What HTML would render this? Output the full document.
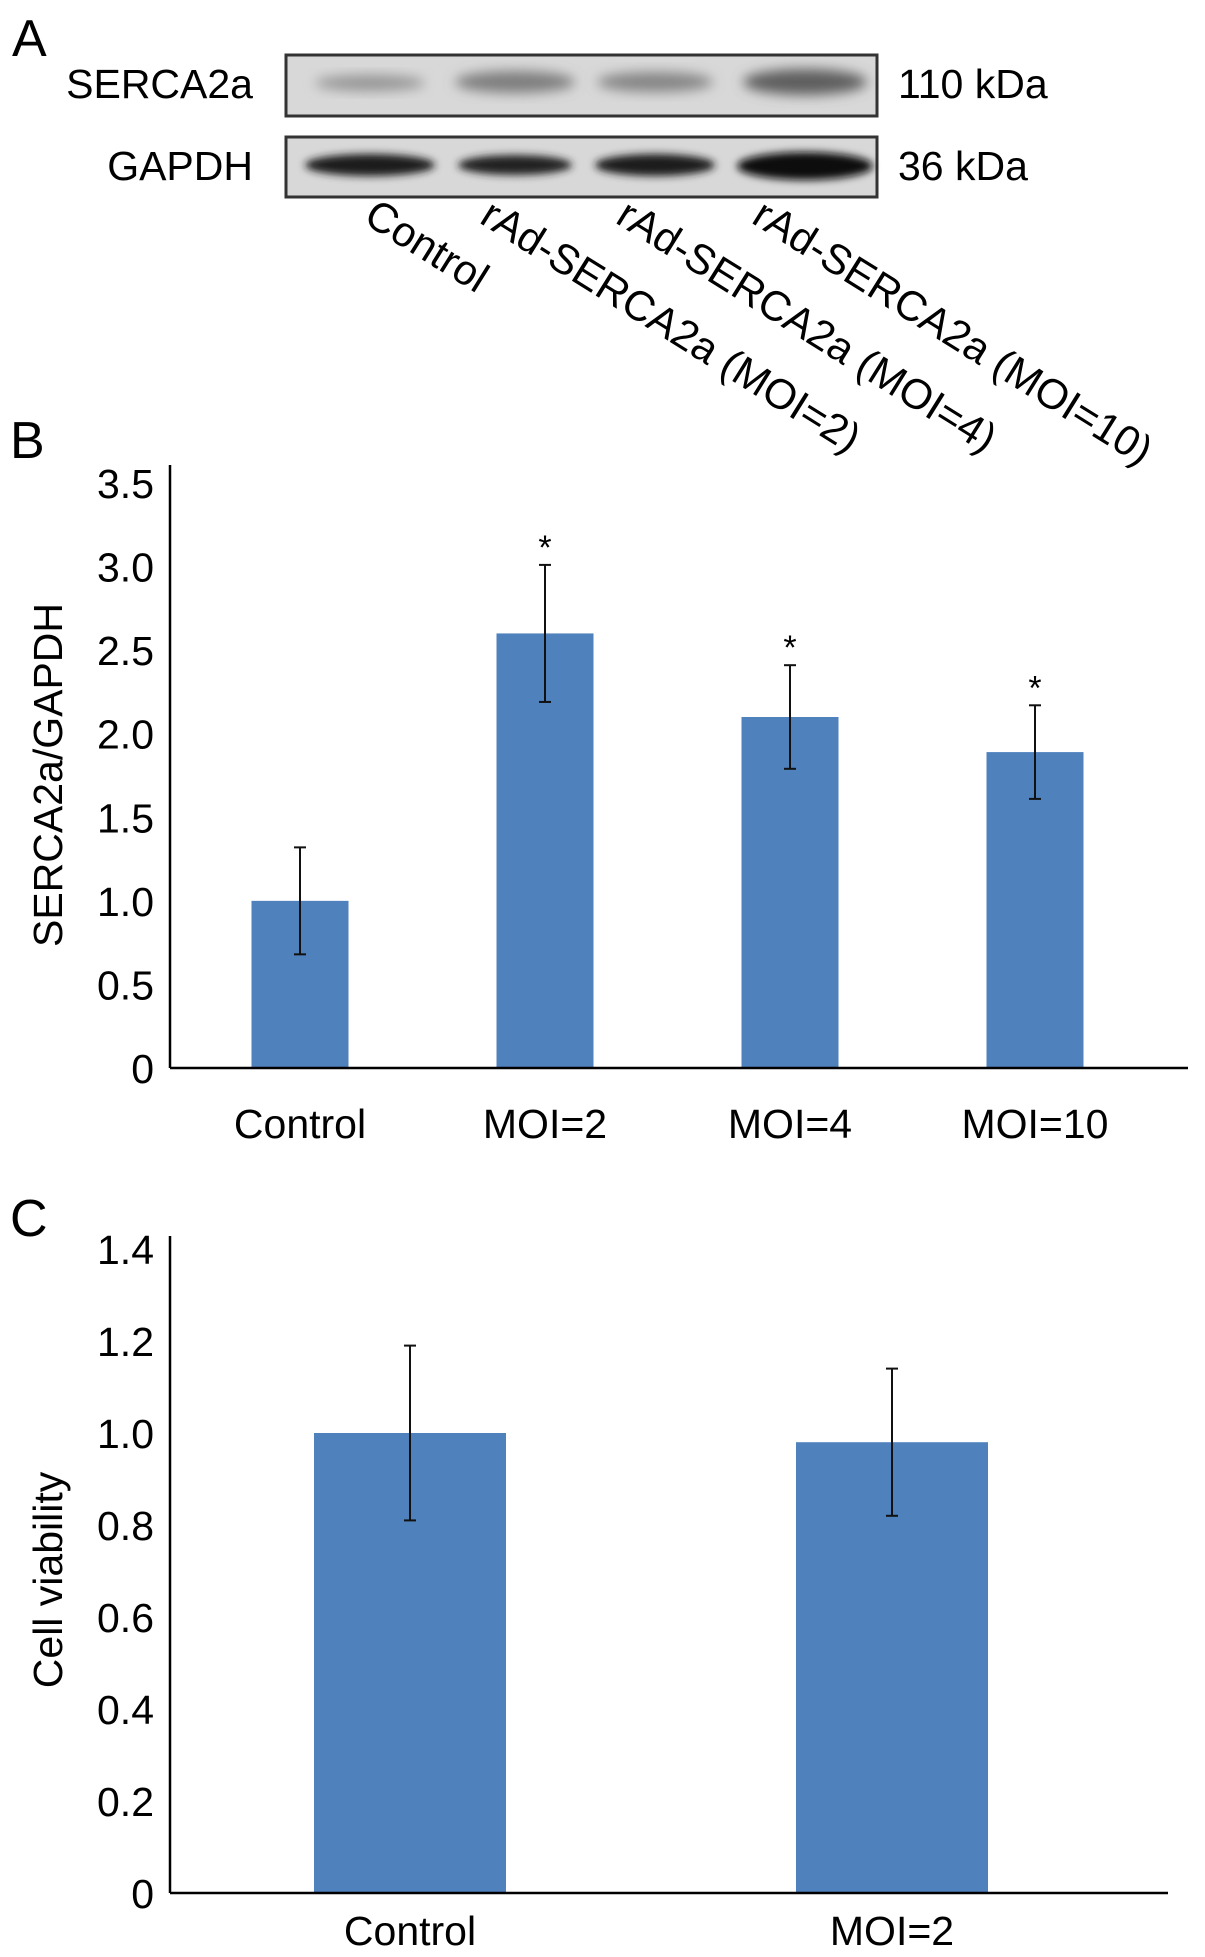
<!DOCTYPE html>
<html><head><meta charset="utf-8">
<style>
html,body{margin:0;padding:0;background:#fff;}
svg{display:block;font-family:"Liberation Sans",Arial,sans-serif;}
</style></head>
<body>
<svg id="fig" width="1205" height="1957" viewBox="0 0 1205 1957">
<defs>
<filter id="blur6" x="-20%" y="-50%" width="140%" height="200%"><feGaussianBlur stdDeviation="6"/></filter>
<filter id="blur4" x="-20%" y="-50%" width="140%" height="200%"><feGaussianBlur stdDeviation="4"/></filter>
</defs>
<g>
<text x="12" y="56" font-size="52">A</text>
<text x="253" y="98" font-size="41" text-anchor="end">SERCA2a</text>
<text x="253" y="180" font-size="41" text-anchor="end">GAPDH</text>
<text x="898" y="98" font-size="41">110 kDa</text>
<text x="898" y="180" font-size="41">36 kDa</text>
<g>
<rect x="286" y="55" width="591" height="61" fill="#d8d8d8" stroke="#333" stroke-width="3"/>
<ellipse cx="370" cy="83" rx="55" ry="8" fill="#959595" filter="url(#blur6)"/>
<ellipse cx="515" cy="82" rx="60" ry="11" fill="#7e7e7e" filter="url(#blur6)"/>
<ellipse cx="655" cy="82" rx="58" ry="10" fill="#858585" filter="url(#blur6)"/>
<ellipse cx="805" cy="82" rx="62" ry="13" fill="#5e5e5e" filter="url(#blur6)"/>
</g>
<g>
<rect x="286" y="137" width="591" height="60" fill="#d8d8d8" stroke="#333" stroke-width="3"/>
<ellipse cx="370" cy="165" rx="65" ry="11" fill="#1a1a1a" filter="url(#blur4)"/>
<ellipse cx="515" cy="165" rx="57" ry="10" fill="#222" filter="url(#blur4)"/>
<ellipse cx="655" cy="165" rx="60" ry="11" fill="#1e1e1e" filter="url(#blur4)"/>
<ellipse cx="805" cy="166" rx="68" ry="14" fill="#0c0c0c" filter="url(#blur4)"/>
</g>
<g font-size="42">
<text transform="translate(362,222) rotate(32)">Control</text>
<text transform="translate(478,222) rotate(32)">rAd-SERCA2a (MOI=2)</text>
<text transform="translate(614,222) rotate(32)">rAd-SERCA2a (MOI=4)</text>
<text transform="translate(750,222) rotate(32)">rAd-SERCA2a (MOI=10)</text>
</g>
</g>
<text x="10" y="458" font-size="52">B</text>
<text x="10" y="1236" font-size="52">C</text>
<g id="chartB"></g>
<g id="chartC"></g>
</svg>
<script>
const bCategories = ["Control","MOI=2","MOI=4","MOI=10"];
const bValues = [1.0, 2.6, 2.1, 1.89];
const bErrors = [0.32, 0.41, 0.31, 0.28];
const bStars = [false, true, true, true];
const bTicks = [0,0.5,1.0,1.5,2.0,2.5,3.0,3.5];
const bTickLabels = ["0","0.5","1.0","1.5","2.0","2.5","3.0","3.5"];
const cCategories = ["Control","MOI=2"];
const cValues = [1.0, 0.98];
const cErrors = [0.19, 0.16];
const cTicks = [0,0.2,0.4,0.6,0.8,1.0,1.2,1.4];
const cTickLabels = ["0","0.2","0.4","0.6","0.8","1.0","1.2","1.4"];
const NS="http://www.w3.org/2000/svg";
function mk(parent,tag,attrs){const e=document.createElementNS(NS,tag);for(const k in attrs)e.setAttribute(k,attrs[k]);parent.appendChild(e);return e;}
function drawChart(g,cfg){
  const y=v=>cfg.y0-(v-cfg.min)/(cfg.max-cfg.min)*(cfg.y0-cfg.yTop);
  const x=i=>cfg.centers0+i*cfg.step;
  const ax=mk(g,'line',{x1:cfg.ax,y1:cfg.axTop,x2:cfg.ax,y2:cfg.y0,stroke:'#000','stroke-width':2.5});
  
  
  cfg.ticks.forEach((t,i)=>{
    const tx=mk(g,'text',{x:cfg.ax-16,y:y(t)+15,'font-size':41,'text-anchor':'end'});
    tx.textContent=cfg.tickLabels[i];
    
    
  });
  cfg.values.forEach((v,i)=>{
    const cx=x(i);
    const r=mk(g,'rect',{x:cx-cfg.bw/2,y:y(v),width:cfg.bw,height:cfg.y0-y(v),fill:'#4f81bd'});
    
    
    const e=cfg.errors[i];
    const eg=mk(g,'g',{stroke:'#111','stroke-width':2});
    
    
    mk(eg,'line',{x1:cx,y1:y(v+e),x2:cx,y2:y(v-e)});
    mk(eg,'line',{x1:cx-6,y1:y(v+e),x2:cx+6,y2:y(v+e)});
    mk(eg,'line',{x1:cx-6,y1:y(v-e),x2:cx+6,y2:y(v-e)});
    if(cfg.stars&&cfg.stars[i]){
      const s=mk(g,'text',{x:cx,y:y(v+e)-6,'font-size':34,'text-anchor':'middle'});
      s.textContent='*';
      
      
    }
    const l=mk(g,'text',{x:cx,y:cfg.labelY,'font-size':41,'text-anchor':'middle'});
    l.textContent=cfg.cats[i];
    
    
  });
  const bl=mk(g,'line',{x1:cfg.ax,y1:cfg.y0,x2:cfg.axEnd,y2:cfg.y0,stroke:'#000','stroke-width':2.5});
  
  
  const t=mk(g,'text',{transform:`translate(${cfg.titleX},${cfg.titleY}) rotate(-90)`,'font-size':41,'text-anchor':'middle'});
  t.textContent=cfg.title;
  
  
}
drawChart(document.getElementById('chartB'),{min:0,max:3.5,y0:1068,yTop:483,ax:170,axTop:465,axEnd:1188,
  centers0:300,step:245,bw:97,values:bValues,errors:bErrors,stars:bStars,cats:bCategories,ticks:bTicks,tickLabels:bTickLabels,
  labelY:1138,titleX:62,titleY:775,title:"SERCA2a/GAPDH"});
drawChart(document.getElementById('chartC'),{min:0,max:1.4,y0:1893,yTop:1249,ax:170,axTop:1236,axEnd:1168,
  centers0:410,step:482,bw:192,values:cValues,errors:cErrors,cats:cCategories,ticks:cTicks,tickLabels:cTickLabels,
  labelY:1945,titleX:62,titleY:1580,title:"Cell viability"});
</script>
</body></html>
